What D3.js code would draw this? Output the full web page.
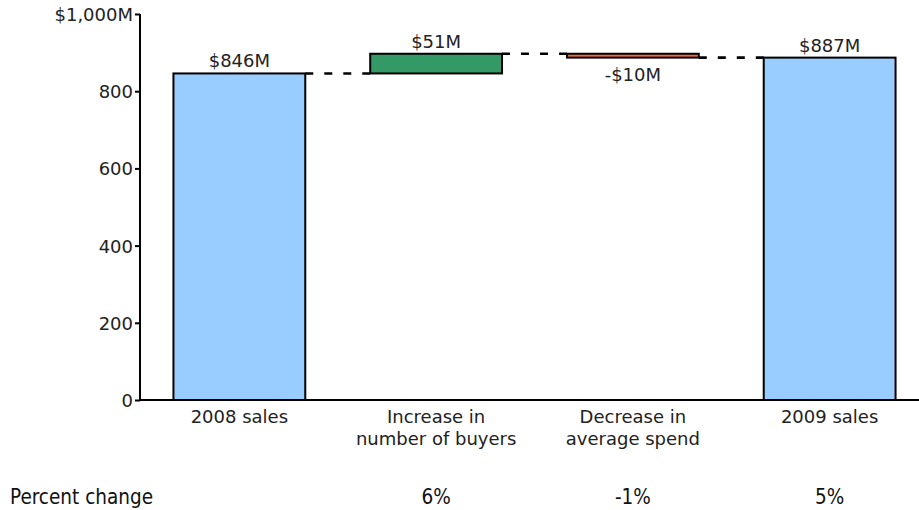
<!DOCTYPE html>
<html>
<head>
<meta charset="utf-8">
<script src="https://cdn.jsdelivr.net/npm/d3@7"></script>
<style>
  html, body { margin: 0; padding: 0; background: #fff; }
  svg { display: block; }
  .lbl { font-family: "DejaVu Sans", Verdana, sans-serif; font-size: 18px; fill: #222; }
  .pct { font-family: "DejaVu Sans", sans-serif; font-stretch: condensed; font-size: 20.5px; fill: #111; }
</style>
</head>
<body>
<svg id="chart" width="919" height="510"></svg>
<script>
// Waterfall: 2008 sales -> drivers -> 2009 sales ($M)
const categories = ["2008 sales", "Increase in\nnumber of buyers", "Decrease in\naverage spend", "2009 sales"];
const kinds = ["total", "delta", "delta", "total"];
const values = [846, 51, -10, 887];
const valueLabels = ["$846M", "$51M", "-$10M", "$887M"];
const percentChange = ["", "6%", "-1%", "5%"];
const yTicks = [0, 200, 400, 600, 800, 1000];
const yTickLabels = ["0", "200", "400", "600", "800", "$1,000M"];

const svg = d3.select("#chart");

const x = d3.scaleBand()
  .domain(categories)
  .range([140, 929])
  .paddingInner(0.33)
  .paddingOuter(0.17);

const y = d3.scaleLinear().domain([0, 1000]).range([400, 14]);

// running totals for the floating steps
let running = 0;
const steps = categories.map((c, i) => {
  let lo, hi;
  if (kinds[i] === "total") {
    lo = 0; hi = values[i]; running = values[i];
  } else {
    const start = running;
    running = start + values[i];
    lo = Math.min(start, running); hi = Math.max(start, running);
  }
  return { cat: c, lo, hi, end: running, v: values[i], kind: kinds[i], label: valueLabels[i] };
});

const fillFor = d => d.kind === "total" ? "#99CCFF" : (d.v >= 0 ? "#339966" : "#FF6633");

// connectors between bars
const conn = svg.append("g");
steps.slice(0, -1).forEach((d, i) => {
  conn.append("line")
    .attr("x1", x(d.cat) + x.bandwidth())
    .attr("x2", x(steps[i + 1].cat))
    .attr("y1", y(d.end))
    .attr("y2", y(d.end))
    .attr("stroke", "#000")
    .attr("stroke-width", 2.6)
    .attr("stroke-dasharray", "8,11");
});

// bars
svg.append("g").selectAll("rect")
  .data(steps)
  .join("rect")
  .attr("x", d => x(d.cat))
  .attr("width", x.bandwidth())
  .attr("y", d => y(d.hi))
  .attr("height", d => Math.max(1, y(d.lo) - y(d.hi)))
  .attr("fill", fillFor)
  .attr("stroke", "#000")
  .attr("stroke-width", 2);

// value labels: above for rises/totals, below for drops
svg.append("g").selectAll("text")
  .data(steps)
  .join("text")
  .attr("class", "lbl")
  .attr("text-anchor", "middle")
  .attr("x", d => x(d.cat) + x.bandwidth() / 2)
  .attr("y", d => d.v >= 0 ? y(d.hi) - 6 : y(d.lo) + 23)
  .text(d => d.label);

// y axis
const yAxis = svg.append("g")
  .attr("transform", "translate(140,0)")
  .call(d3.axisLeft(y).tickValues(yTicks).tickSize(5).tickPadding(2)
    .tickFormat((d, i) => yTickLabels[i]));
yAxis.select(".domain").attr("stroke", "#000").attr("stroke-width", 2)
  .attr("d", `M0,${y(1000)}V${y(0)}`);
yAxis.selectAll(".tick line").attr("stroke", "#000").attr("stroke-width", 2);
yAxis.selectAll(".tick text").attr("class", "lbl").attr("dy", "0.36em");

// x baseline and category labels
const xAxis = svg.append("g")
  .attr("transform", `translate(0,${y(0)})`)
  .call(d3.axisBottom(x).tickSize(0).tickFormat(""));
xAxis.select(".domain").attr("stroke", "#000").attr("stroke-width", 2)
  .attr("d", `M140,0H929`);

const catG = svg.append("g");
categories.forEach(c => {
  const lines = c.split("\n");
  const t = catG.append("text")
    .attr("class", "lbl")
    .attr("text-anchor", "middle")
    .attr("x", x(c) + x.bandwidth() / 2)
    .attr("y", 423);
  lines.forEach((ln, k) => {
    t.append("tspan")
      .attr("x", x(c) + x.bandwidth() / 2)
      .attr("dy", k === 0 ? 0 : 22)
      .text(ln);
  });
});

// percent change row
svg.append("text").attr("class", "pct").attr("x", 10).attr("y", 504).text("Percent change");
svg.append("g").selectAll("text")
  .data(categories.map((c, i) => ({ c, p: percentChange[i] })).filter(d => d.p))
  .join("text")
  .attr("class", "pct")
  .attr("text-anchor", "middle")
  .attr("x", d => x(d.c) + x.bandwidth() / 2)
  .attr("y", 504)
  .text(d => d.p);
</script>
</body>
</html>
